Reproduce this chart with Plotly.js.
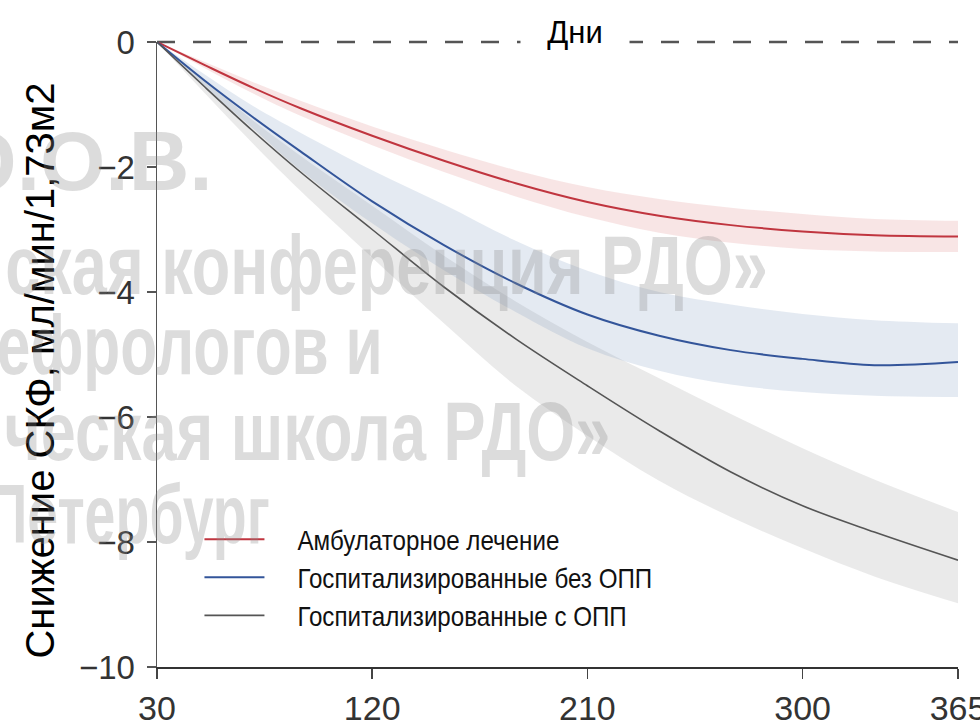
<!DOCTYPE html>
<html><head><meta charset="utf-8">
<script src="https://cdn.plot.ly/plotly-3.0.1.min.js"></script>
<style>html,body{margin:0;padding:0;background:#fff}#chart{width:980px;height:726px}</style>
</head><body><div id="chart"></div>
<script>
const days = [30, 50, 70, 90, 120, 150, 180, 210, 240, 270, 300, 330, 365];
const xTicks = [30, 120, 210, 300, 365];
const yTicks = [0, -2, -4, -6, -8, -10];
const seriesNames = ['Амбулаторное лечение', 'Госпитализированные без ОПП', 'Госпитализированные с ОПП'];

const ambMean  = [0, -0.37, -0.73, -1.06, -1.50, -1.90, -2.26, -2.56, -2.78, -2.93, -3.03, -3.09, -3.11];
const ambUpper = [0, -0.32, -0.64, -0.94, -1.35, -1.72, -2.05, -2.32, -2.51, -2.65, -2.75, -2.83, -2.86];
const ambLower = [0, -0.42, -0.82, -1.18, -1.65, -2.08, -2.47, -2.80, -3.05, -3.21, -3.31, -3.35, -3.36];

const hospMean  = [0, -0.62, -1.20, -1.75, -2.55, -3.25, -3.86, -4.36, -4.70, -4.93, -5.07, -5.17, -5.12];
const hospUpper = [0, -0.52, -1.02, -1.45, -2.05, -2.60, -3.18, -3.66, -4.00, -4.20, -4.35, -4.45, -4.50];
const hospLower = [0, -0.72, -1.38, -2.05, -2.90, -3.65, -4.32, -4.90, -5.26, -5.48, -5.60, -5.66, -5.68];

const akiMean  = [0, -0.72, -1.42, -2.08, -3.00, -3.92, -4.75, -5.50, -6.22, -6.88, -7.42, -7.84, -8.29];
const akiUpper = [0, -0.62, -1.25, -1.82, -2.62, -3.42, -4.15, -4.80, -5.38, -5.95, -6.50, -7.00, -7.52];
const akiLower = [0, -0.82, -1.62, -2.38, -3.45, -4.50, -5.50, -6.30, -7.02, -7.60, -8.10, -8.55, -8.98];

const watermarkLines = ['Ю.О.В.', 'ская конференция РДО»', 'Нефрологов и', 'ческая школа РДО»', 'Петербург'];

const SANS = '"Liberation Sans", Arial, Helvetica, sans-serif';

function edge(y) {
  return {x: days, y: y, type: 'scatter', mode: 'lines', line: {width: 0, shape: 'spline'},
          showlegend: false, hoverinfo: 'skip'};
}
function bandTop(y, color) {
  return {x: days, y: y, type: 'scatter', mode: 'lines', fill: 'tonexty', fillcolor: color,
          line: {width: 0, shape: 'spline'}, showlegend: false, hoverinfo: 'skip'};
}
function meanLine(y, name, color, w) {
  return {x: days, y: y, type: 'scatter', mode: 'lines', name: name,
          line: {color: color, width: w, shape: 'spline'}};
}

const data = [
  edge(akiLower), bandTop(akiUpper, 'rgba(150,150,150,0.2)'),
  edge(hospLower), bandTop(hospUpper, 'rgba(120,150,190,0.2)'),
  edge(ambLower), bandTop(ambUpper, 'rgba(215,100,100,0.17)'),
  meanLine(ambMean, seriesNames[0], '#c0353f', 2),
  meanLine(hospMean, seriesNames[1], '#33559a', 2),
  meanLine(akiMean, seriesNames[2], '#555555', 1.6)
];

// watermark placement (paper coords of right edge / vertical middle) and horizontal squeeze
const wmX = [0.072, 0.765, 0.285, 0.568, 0.143];
const wmY = [0.810, 0.643, 0.515, 0.378, 0.245];
const wmSqueeze = [1.0, 0.75, 0.72, 0.75, 0.66];
const annotations = watermarkLines.map((t, i) => ({
  text: t, xref: 'paper', yref: 'paper', x: wmX[i], y: wmY[i], xanchor: 'right', yanchor: 'middle',
  showarrow: false, font: {family: SANS, size: 84, color: 'rgba(140,140,140,0.3)', weight: 'bold'}
}));
annotations.push({
  text: 'Дни', xref: 'paper', yref: 'paper', x: 0.522, y: 1.016, xanchor: 'center', yanchor: 'middle',
  showarrow: false, bgcolor: '#ffffff', width: 106, height: 36,
  font: {family: SANS, size: 31, color: '#000'}
});

const layout = {
  width: 980, height: 726,
  margin: {l: 157, r: 22, t: 42, b: 59},
  paper_bgcolor: '#fff', plot_bgcolor: '#fff',
  showlegend: true,
  legend: {x: 0.053, y: 0.243, xanchor: 'left', yanchor: 'top', bgcolor: 'rgba(0,0,0,0)', traceorder: 'normal',
           font: {family: SANS, size: 27, color: '#111'}, itemwidth: 60, tracegroupgap: 0},
  xaxis: {range: [30, 365], tickvals: xTicks, ticktext: xTicks.map(String), showgrid: false, zeroline: false,
          showline: true, linecolor: '#333', linewidth: 2, ticks: 'outside', ticklen: 10, tickwidth: 1.5,
          tickcolor: '#444', tickfont: {family: SANS, size: 34, color: '#333'}, ticklabeloverflow: 'allow',
          fixedrange: true},
  yaxis: {range: [-10, 0], tickvals: yTicks, showgrid: false, zeroline: false,
          showline: true, linecolor: '#555', linewidth: 1.5, ticks: 'outside', ticklen: 9, tickwidth: 1.5,
          tickcolor: '#555', tickfont: {family: SANS, size: 33, color: '#333'}, ticklabelstandoff: 5,
          title: {text: 'Снижение СКФ, мл/мин/1,73м2', font: {family: SANS, size: 40, color: '#000'}, standoff: 2},
          fixedrange: true},
  shapes: [{type: 'line', xref: 'paper', yref: 'paper', x0: 0, x1: 1, y0: 1, y1: 1, layer: 'below',
            line: {color: '#555', width: 2.5, dash: '18px,18px'}}],
  annotations: annotations
};

function squeeze(el, s, ax, dx) {
  const prev = el.getAttribute('transform') || '';
  el.setAttribute('transform', prev + ' translate(' + (ax + (dx || 0)) + ',0) scale(' + s + ',1) translate(' + (-ax) + ',0)');
}

Plotly.newPlot('chart', data, layout, {displayModeBar: false, staticPlot: true}).then(function (gd) {
  // condensed look for the watermark text (anchored on its right edge)
  gd.querySelectorAll('text.annotation-text').forEach(function (t) {
    const i = watermarkLines.indexOf(t.textContent);
    if (i >= 0 && wmSqueeze[i] !== 1) {
      const bb = t.getBBox();
      squeeze(t, wmSqueeze[i], bb.x + bb.width, 0);
    }
  });
  // condensed legend text, shifted right of the swatches
  const lt = gd.querySelectorAll('.legendtext');
  if (lt.length) {
    let first = null;
    lt.forEach(function (t) { if (t.textContent === seriesNames[0]) first = t; });
    const s = first ? 262 / first.getBBox().width : 0.9;
    lt.forEach(function (t) { const bb = t.getBBox(); squeeze(t, s, bb.x, 28); });
  }
  // y title nudge
  const yt = gd.querySelector('.ytitle');
  if (yt) yt.setAttribute('transform', 'translate(-10,16) ' + (yt.getAttribute('transform') || ''));
});
</script></body></html>
